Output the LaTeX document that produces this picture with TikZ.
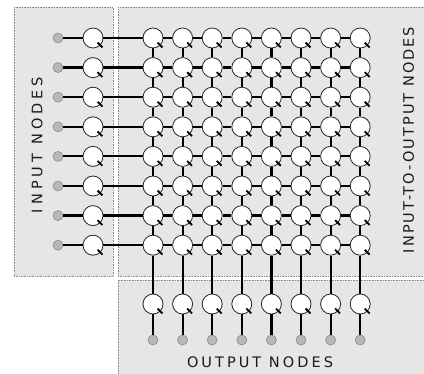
\documentclass[tikz,border=0pt]{standalone}
\usepackage{fontspec}
\setmainfont{DejaVu Sans}
\usetikzlibrary{calc}
\definecolor{boxfill}{HTML}{E6E6E6}
\definecolor{boxline}{HTML}{8C8C8C}
\definecolor{dotfill}{HTML}{B8B8B8}
\definecolor{dotline}{HTML}{8A8A8A}
\definecolor{txt}{HTML}{1A1A1A}
\begin{document}
\begin{tikzpicture}[x=1pt,y=-1pt,
  region/.style={fill=boxfill,draw=boxline,densely dotted,line width=0.6pt},
  unit/.style={circle,draw=black!85,fill=white,line width=0.8pt,minimum size=20pt,inner sep=0pt},
  src/.style={circle,draw=dotline,fill=dotfill,line width=0.6pt,minimum size=10pt,inner sep=0pt},
  link/.style={line width=2.2pt,black},
  tickmark/.style={line width=1.8pt,black},
  lbl/.style={text=txt,font=\fontsize{14.5}{16}\selectfont,inner sep=0pt}]
\useasboundingbox (0,0) rectangle (424,374);
\path[region] (14,7.5) rectangle (113,276);
\path[region] (118,7.5) rectangle (430,276);
\path[region] (118,280) rectangle (430,380);
% nodes
\foreach \i in {1,...,8} {
  \pgfmathsetmacro\yy{38+29.6*(\i-1)}
  \node[src] (id\i) at (58,\yy) {};
  \node[unit] (in\i) at (93,\yy) {};
  \foreach \j in {1,...,8} {
    \pgfmathsetmacro\xx{153+29.6*(\j-1)}
    \node[unit] (g\i-\j) at (\xx,\yy) {};
  }
}
\foreach \j in {1,...,8} {
  \pgfmathsetmacro\xx{153+29.6*(\j-1)}
  \node[unit] (o\j) at (\xx,304) {};
  \node[src] (od\j) at (\xx,340) {};
}
% connectors
\foreach \i in {1,...,8} {
  \draw[link] (id\i) -- (in\i);
  \draw[link] (in\i) -- (g\i-1);
  \foreach \j [evaluate=\j as \k using int(\j+1)] in {1,...,7} {
    \draw[link] (g\i-\j) -- (g\i-\k);
  }
}
\foreach \j in {1,...,8} {
  \foreach \i [evaluate=\i as \k using int(\i+1)] in {1,...,7} {
    \draw[link] (g\i-\j) -- (g\k-\j);
  }
  \draw[link] (g8-\j) -- (o\j);
  \draw[link] (o\j) -- (od\j);
}
% ticks
\foreach \n in {in1,in2,in3,in4,in5,in6,in7,in8,o1,o2,o3,o4,o5,o6,o7,o8} {
  \draw[tickmark] ($(\n.center)!0.62!(\n.south east)$) -- ($(\n.center)!1.28!(\n.south east)$);
}
\foreach \i in {1,...,8} {
  \foreach \j in {1,...,8} {
    \draw[tickmark] ($(g\i-\j.center)!0.62!(g\i-\j.south east)$) -- ($(g\i-\j.center)!1.28!(g\i-\j.south east)$);
  }
}
% labels
\node[lbl,rotate=90] (inlab) at (37,145) {\addfontfeature{LetterSpace=28}INPUT NODES};
\node[lbl,rotate=90] (iolab) at (408.5,140) {\addfontfeature{LetterSpace=14}INPUT-TO-OUTPUT NODES};
\node[lbl] (outlab) at (260,362) {\addfontfeature{LetterSpace=21}OUTPUT NODES};
\end{tikzpicture}
\end{document}
